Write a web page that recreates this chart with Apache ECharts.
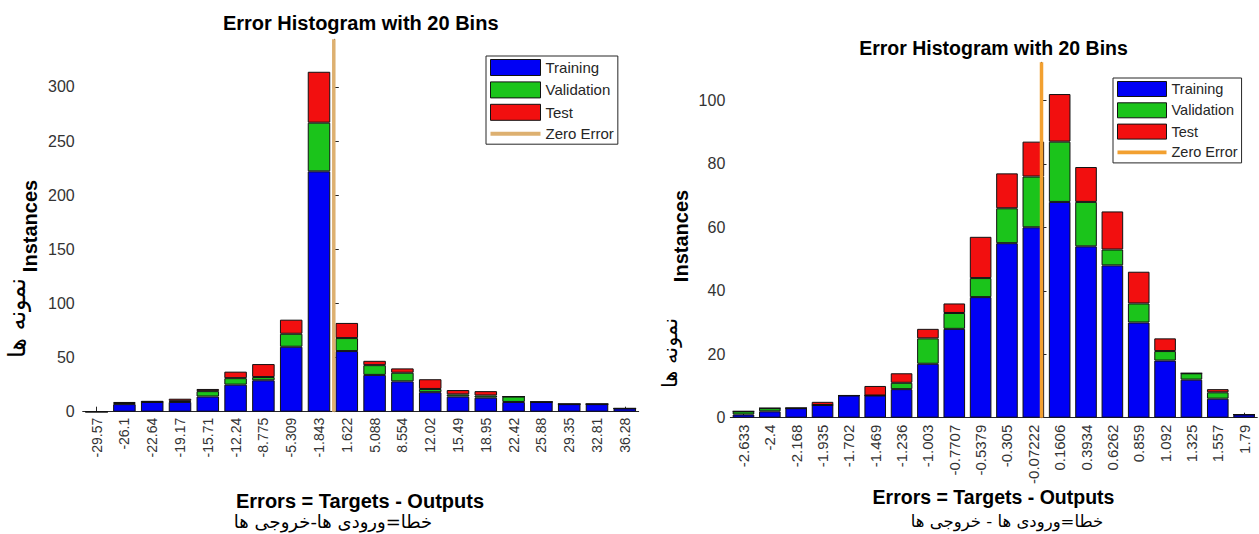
<!DOCTYPE html>
<html>
<head>
<meta charset="utf-8">
<script src="https://cdn.jsdelivr.net/npm/echarts@6/dist/echarts.min.js"></script>
<style>
html,body{margin:0;padding:0;background:#fff;}
#c{width:1259px;height:534px;}
</style>
</head>
<body>
<div id="c"></div>
<script>
// ---------- Left histogram ----------
const leftBins = ['-29.57','-26.1','-22.64','-19.17','-15.71','-12.24','-8.775','-5.309','-1.843','1.622','5.088','8.554','12.02','15.49','18.95','22.42','25.88','29.35','32.81','36.28'];
const leftTraining   = [0, 7, 9, 9, 14, 25, 29, 60, 222, 56, 34, 28, 18, 14, 13, 9, 9, 7, 7, 3];
const leftValidation = [0, 1, 0, 1,  5,  6,  3, 12,  45, 12,  9,  8,  3,  2,  2, 5, 0, 0, 0, 0];
const leftTest       = [0, 1, 1, 2,  2,  6, 12, 13,  47, 14,  4,  4,  9,  4,  4, 0, 0, 0, 0, 0];
const leftYTicks = [0, 50, 100, 150, 200, 250, 300];
const leftYMax = 344;

// ---------- Right histogram ----------
const rightBins = ['-2.633','-2.4','-2.168','-1.935','-1.702','-1.469','-1.236','-1.003','-0.7707','-0.5379','-0.305','-0.07222','0.1606','0.3934','0.6262','0.859','1.092','1.325','1.557','1.79'];
const rightTraining   = [1, 2, 3, 4, 7, 7, 9, 17, 28, 38, 55, 60, 68, 54, 48, 30, 18, 12, 6, 1];
const rightValidation = [1, 1, 0, 0, 0, 0, 2,  8,  5,  6, 11, 16, 19, 14,  5,  6,  3,  2, 2, 0];
const rightTest       = [0, 0, 0, 1, 0, 3, 3,  3,  3, 13, 11, 11, 15, 11, 12, 10,  4,  0, 1, 0];
const rightYTicks = [0, 20, 40, 60, 80, 100];
const rightYMax = 112;

const zeroError = 0;

// ---------- Styles ----------
const FONT = "'Liberation Sans', Arial, sans-serif";
const FA_FONT = "'DejaVu Sans', sans-serif";
const BLUE = '#0000F5', GREEN = '#1BC41B', RED = '#F20F0F';
const ZL = '#DDB070', ZR = '#F2A030';
const AX = '#262626';

function binRange(bins) {
  const a = parseFloat(bins[0]), b = parseFloat(bins[bins.length - 1]);
  const w = (b - a) / (bins.length - 1);
  return [a - w / 2, b + w / 2];
}
const lr = binRange(leftBins), rr = binRange(rightBins);

function catAxis(gi, bins, fs, margin) {
  return {
    type: 'category', gridIndex: gi, data: bins, boundaryGap: true,
    axisLine: { show: true, lineStyle: { color: AX, width: 1 } },
    axisTick: { show: true, inside: true, alignWithLabel: true, length: 5, lineStyle: { color: AX } },
    axisLabel: { rotate: 90, interval: 0, fontSize: fs, color: '#333', margin: margin, fontFamily: FONT },
    splitLine: { show: false }
  };
}
function valXAxis(gi, r) {
  return { type: 'value', gridIndex: gi, min: r[0], max: r[1], show: false };
}
function yAxis(gi, max, interval, ticks, margin) {
  return {
    type: 'value', gridIndex: gi, min: 0, max: max, interval: interval,
    axisLine: { show: true, lineStyle: { color: AX, width: 1 } },
    axisTick: { show: true, inside: true, length: 5, lineStyle: { color: AX }, customValues: ticks },
    axisLabel: { fontSize: 16, color: '#333', margin: margin, fontFamily: FONT, customValues: ticks },
    splitLine: { show: false }
  };
}
function bars(name, data, color, xi, yi, stack, gap) {
  return {
    name: name, type: 'bar', xAxisIndex: xi, yAxisIndex: yi, stack: stack, data: data,
    barCategoryGap: gap,
    itemStyle: { color: color, borderColor: '#111', borderWidth: 1 },
    emphasis: { disabled: true }, z: 2
  };
}
function zeroLine(xi, yi, ymax, color) {
  return {
    name: 'Zero Error', type: 'line', xAxisIndex: xi, yAxisIndex: yi,
    data: [[zeroError, 0], [zeroError, ymax]], symbol: 'none',
    lineStyle: { color: color, width: 3.5 }, itemStyle: { color: color },
    z: 5, silent: true
  };
}
function legend(left, top, iw, ih, gap, fs, zc) {
  return {
    orient: 'vertical', left: left, top: top, itemWidth: iw, itemHeight: ih, itemGap: gap,
    padding: [3, 4, 3, 4], borderColor: AX, borderWidth: 1, backgroundColor: '#fff',
    selectedMode: false,
    textStyle: { fontSize: fs, color: AX, fontFamily: FONT },
    itemStyle: { borderColor: '#111', borderWidth: 1 },
    data: [
      { name: 'Training', icon: 'rect', itemStyle: { color: BLUE, borderColor: '#111', borderWidth: 1 } },
      { name: 'Validation', icon: 'rect', itemStyle: { color: GREEN, borderColor: '#111', borderWidth: 1 } },
      { name: 'Test', icon: 'rect', itemStyle: { color: RED, borderColor: '#111', borderWidth: 1 } },
      { name: 'Zero Error', icon: 'path://M0,0H50V4H0Z', itemStyle: { color: zc, borderWidth: 0 } }
    ]
  };
}
function txt(text, x, y, size, bold, rot, fam) {
  return {
    type: 'text', x: x, y: y, rotation: rot || 0, silent: true,
    style: {
      text: text, fontSize: size, fontWeight: bold ? 'bold' : 'normal', fontFamily: fam || FONT,
      fill: '#000', textAlign: 'center', textVerticalAlign: 'middle', align: 'center', verticalAlign: 'middle'
    }
  };
}

const chart = echarts.init(document.getElementById('c'), null, { renderer: 'svg' });
chart.setOption({
  animation: false,
  backgroundColor: '#fff',
  textStyle: { fontFamily: FONT },
  grid: [
    { left: 82.7, top: 39.3, width: 556, height: 372.4, containLabel: false },
    { left: 730.3, top: 62.3, width: 527, height: 355.4, containLabel: false }
  ],
  xAxis: [
    catAxis(0, leftBins, 14, 6),
    valXAxis(0, lr),
    catAxis(1, rightBins, 15, 7),
    valXAxis(1, rr)
  ],
  yAxis: [
    yAxis(0, leftYMax, 50, leftYTicks, 8),
    yAxis(1, rightYMax, 20, rightYTicks, 5)
  ],
  legend: [
    legend(486, 56, 50, 16, 5.4, 15, ZL),
    legend(1113, 78, 49, 15, 5.3, 14.5, ZR)
  ],
  series: [
    bars('Training', leftTraining, BLUE, 0, 0, 'L', '19%'),
    bars('Validation', leftValidation, GREEN, 0, 0, 'L', '19%'),
    bars('Test', leftTest, RED, 0, 0, 'L', '19%'),
    zeroLine(1, 0, leftYMax, ZL),
    bars('Training', rightTraining, BLUE, 2, 1, 'R', '18%'),
    bars('Validation', rightValidation, GREEN, 2, 1, 'R', '18%'),
    bars('Test', rightTest, RED, 2, 1, 'R', '18%'),
    zeroLine(3, 1, rightYMax, ZR)
  ],
  graphic: [
    txt('Error Histogram with 20 Bins', 360.7, 23, 20, true),
    txt('Error Histogram with 20 Bins', 993.5, 48.3, 19.5, true),
    txt('Instances', 30, 226, 20, true, Math.PI / 2),
    txt('نمونه ها', 17, 318, 24, false, Math.PI / 2, FA_FONT),
    txt('Instances', 680.5, 236, 20, true, Math.PI / 2),
    txt('نمونه ها', 670, 353, 21, false, Math.PI / 2, FA_FONT),
    txt('Errors = Targets - Outputs', 360, 501, 20, true),
    txt('خطا=ورودی ها-خروجی ها', 333, 521, 18, false, 0, FA_FONT),
    txt('Errors = Targets - Outputs', 993.5, 497, 19.5, true),
    txt('خطا=ورودی ها - خروجی ها', 1007, 521, 16.5, false, 0, FA_FONT)
  ]
});
</script>
</body>
</html>
